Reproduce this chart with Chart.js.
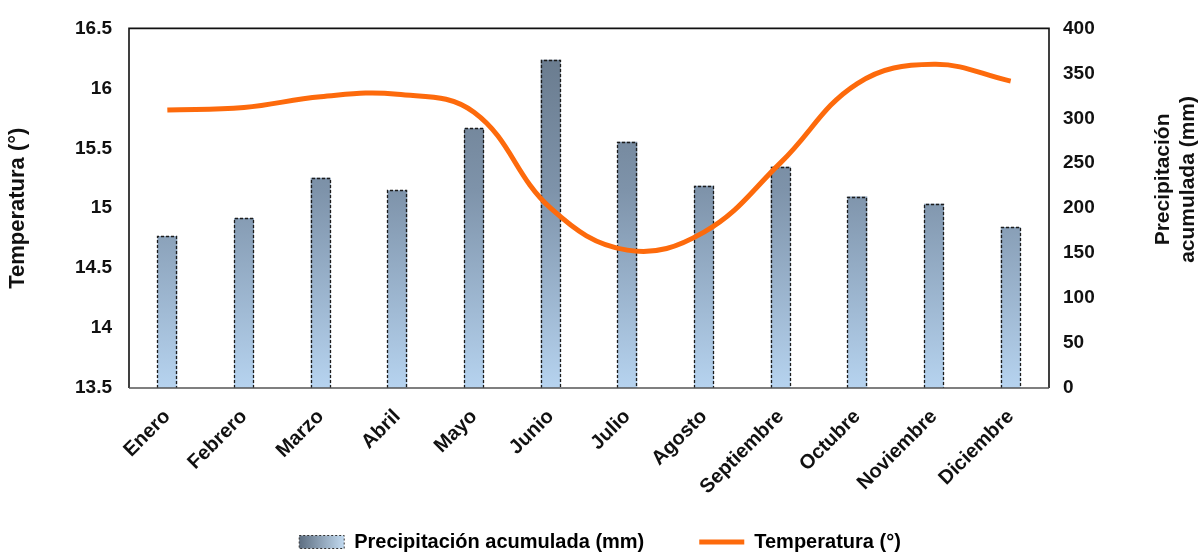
<!DOCTYPE html>
<html>
<head>
<meta charset="utf-8">
<script src="https://cdn.jsdelivr.net/npm/chart.js@4.4.0/dist/chart.umd.min.js"></script>
<style>
  html, body { margin: 0; padding: 0; background: #fff; }
</style>
</head>
<body>
<canvas id="myChart" width="1200" height="552"></canvas>
<script>
// values
const months = ['Enero', 'Febrero', 'Marzo', 'Abril', 'Mayo', 'Junio',
  'Julio', 'Agosto', 'Septiembre', 'Octubre', 'Noviembre', 'Diciembre'];
const precipitation = [169, 189, 234, 220, 289, 365, 274, 225, 246, 213, 205, 179];
const temperature = [15.82, 15.84, 15.93, 15.95, 15.80, 15.00, 14.65, 14.80, 15.38, 16.04, 16.20, 16.06];
const tempTicks = [13.5, 14, 14.5, 15, 15.5, 16, 16.5];
const precipTicks = [0, 50, 100, 150, 200, 250, 300, 350, 400];

const ORANGE = '#fd6a0c';
const FONT = "'Liberation Sans', Arial, sans-serif";

Chart.defaults.font.family = FONT;
Chart.defaults.font.weight = 'bold';
Chart.defaults.color = '#111';

function barGradient(ctx, area) {
  const g = ctx.createLinearGradient(0, area.top, 0, area.bottom);
  g.addColorStop(0, '#667789');
  g.addColorStop(0.45, '#7e93aa');
  g.addColorStop(1, '#b6d3ef');
  return g;
}

// the rotated month names hang below the x box; let them show
const roomForLabels = {
  id: 'roomForLabels',
  afterLayout(chart) {
    chart.scales.x.bottom = chart.height;
  }
};

// dashed outline round each bar, drawn right after the bars (below the line)
const dashedBars = {
  id: 'dashedBars',
  afterDatasetDraw(chart, args) {
    if (args.meta.type !== 'bar') return;
    const ctx = chart.ctx;
    ctx.save();
    ctx.strokeStyle = '#1c1c1c';
    ctx.lineWidth = 1.3;
    ctx.setLineDash([3, 2]);
    args.meta.data.forEach(bar => {
      const left = Math.round(bar.x - bar.width / 2) + 0.5;
      const right = Math.round(bar.x + bar.width / 2) - 0.5;
      const top = Math.round(bar.y) + 0.5;
      const bottom = Math.round(bar.base);
      ctx.beginPath();
      ctx.moveTo(left, bottom);
      ctx.lineTo(left, top);
      ctx.lineTo(right, top);
      ctx.lineTo(right, bottom);
      ctx.stroke();
    });
    ctx.restore();
  }
};

// plot box and the right-hand title (which reads bottom to top)
const frameAndTitle = {
  id: 'frameAndTitle',
  afterDraw(chart) {
    const {ctx, chartArea: a} = chart;
    ctx.save();
    ctx.lineWidth = 1.6;
    ctx.strokeStyle = '#111';
    ctx.beginPath();
    ctx.moveTo(a.left, a.bottom);
    ctx.lineTo(a.left, a.top);
    ctx.lineTo(a.right, a.top);
    ctx.lineTo(a.right, a.bottom);
    ctx.stroke();
    ctx.strokeStyle = '#555';
    ctx.beginPath();
    ctx.moveTo(a.left, a.bottom);
    ctx.lineTo(a.right, a.bottom);
    ctx.stroke();

    const y1 = chart.scales.y1;
    ctx.fillStyle = '#111';
    ctx.font = 'bold 21px ' + FONT;
    ctx.textAlign = 'center';
    ctx.textBaseline = 'middle';
    const cy = a.top + (a.bottom - a.top) * 0.42;
    ['Precipitación', 'acumulada (mm)'].forEach((line, i) => {
      ctx.save();
      ctx.translate(y1.right - 37 + i * 25, cy);
      ctx.rotate(-Math.PI / 2);
      ctx.fillText(line, 0, 0);
      ctx.restore();
    });
    ctx.restore();
  }
};

new Chart(document.getElementById('myChart'), {
  data: {
    labels: months,
    datasets: [
      {
        type: 'line',
        label: 'Temperatura (°)',
        data: temperature,
        yAxisID: 'y',
        borderColor: ORANGE,
        backgroundColor: ORANGE,
        borderWidth: 5,
        pointRadius: 0,
        tension: 0.4,
        fill: false
      },
      {
        type: 'bar',
        label: 'Precipitación acumulada (mm)',
        data: precipitation,
        yAxisID: 'y1',
        backgroundColor: c => {
          const area = c.chart.chartArea;
          return area ? barGradient(c.chart.ctx, area) : '#8aa0b8';
        },
        borderWidth: 0,
        barPercentage: 0.26,
        categoryPercentage: 1
      }
    ]
  },
  options: {
    responsive: false,
    animation: false,
    devicePixelRatio: 1,
    layout: { padding: { top: 28, left: 0, right: 0, bottom: -10 } },
    plugins: {
      tooltip: { enabled: false },
      legend: {
        position: 'bottom',
        labels: {
          usePointStyle: true,
          pointStyleWidth: 45,
          boxHeight: 13,
          padding: 55,
          font: { size: 20, weight: 'bold' },
          color: '#111',
          generateLabels(chart) {
            const g = chart.ctx.createLinearGradient(300, 0, 345, 0);
            g.addColorStop(0, '#5f7083');
            g.addColorStop(1, '#c4dcf2');
            return [
              { text: 'Precipitación acumulada (mm)', fillStyle: g, strokeStyle: '#333',
                lineWidth: 1, lineDash: [2, 2], pointStyle: 'rect', datasetIndex: 1 },
              { text: 'Temperatura (°)', fillStyle: ORANGE, strokeStyle: ORANGE,
                lineWidth: 5, pointStyle: 'line', datasetIndex: 0 }
            ];
          }
        }
      }
    },
    scales: {
      x: {
        grid: { display: false, drawTicks: false },
        border: { display: false },
        ticks: {
          autoSkip: false,
          maxRotation: 45,
          minRotation: 45,
          padding: 17,
          font: { size: 20, weight: 'bold' },
          color: '#111'
        },
        afterFit: s => { s.height = 89; }
      },
      y: {
        position: 'left',
        min: tempTicks[0],
        max: tempTicks[tempTicks.length - 1],
        afterBuildTicks: s => { s.ticks = tempTicks.map(v => ({ value: v })); },
        grid: { display: false, drawTicks: false },
        border: { display: false },
        ticks: {
          padding: 17,
          font: { size: 19, weight: 'bold' },
          color: '#111',
          callback: v => String(v)
        },
        title: {
          display: true,
          text: 'Temperatura (°)',
          font: { size: 22, weight: 'bold' },
          color: '#111',
          padding: { top: 5, bottom: 0 }
        },
        afterFit: s => { s.width = 129; }
      },
      y1: {
        position: 'right',
        min: precipTicks[0],
        max: precipTicks[precipTicks.length - 1],
        afterBuildTicks: s => { s.ticks = precipTicks.map(v => ({ value: v })); },
        grid: { display: false, drawTicks: false },
        border: { display: false },
        ticks: { padding: 14, font: { size: 19, weight: 'bold' }, color: '#111' },
        afterFit: s => { s.width = 151; }
      }
    }
  },
  plugins: [roomForLabels, dashedBars, frameAndTitle]
});
</script>
</body>
</html>
